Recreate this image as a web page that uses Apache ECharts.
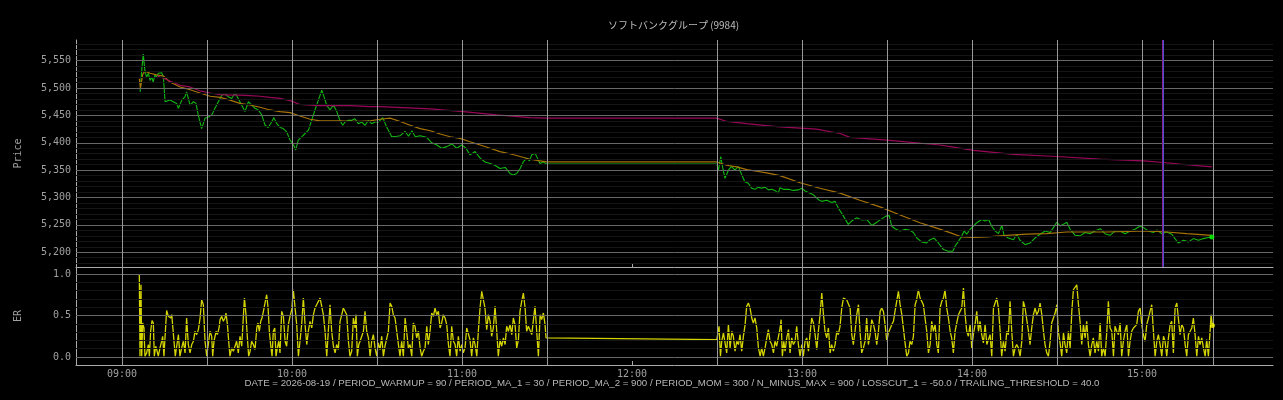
<!DOCTYPE html>
<html>
<head>
<meta charset="utf-8">
<script src="https://cdn.jsdelivr.net/npm/echarts@6/dist/echarts.min.js"></script>
<style>
  html, body { margin: 0; padding: 0; background: #000; }
  #main { width: 1283px; height: 400px; }
</style>
</head>
<body>
<div id="main"></div>
<script>
// x values are minutes after 09:00
var titleText = 'ソフトバンクグループ (9984)'
var footerText = 'DATE = 2026-08-19 / PERIOD_WARMUP = 90 / PERIOD_MA_1 = 30 / PERIOD_MA_2 = 900 / PERIOD_MOM = 300 / N_MINUS_MAX = 900 / LOSSCUT_1 = -50.0 / TRAILING_THRESHOLD = 40.0'

var priceTicks = [5200, 5250, 5300, 5350, 5400, 5450, 5500, 5550]
var erTicks = [0, 0.5, 1.0]
var hourTicks = [0, 60, 120, 180, 240, 300, 360]
var sessionLines = [0, 30, 60, 90, 120, 150, 210, 240, 270, 300, 330, 360, 385]
var signalTime = 367.4

var pricePoints = [
  [6.4,5493],[7.0,5535],[7.5,5562],[8.1,5530],[8.7,5520],[9.3,5527],[9.9,5514],[10.5,5520],[11.0,5511],[11.6,5524],
  [12.2,5520],[12.8,5527],[13.4,5524],[14.0,5528],[14.6,5520],[15.2,5475],[15.8,5475],[16.9,5478],[18.1,5475],[19.3,5472],
  [19.9,5463],[21.1,5478],[22.2,5484],[22.8,5493],[23.4,5481],[24.0,5469],[25.2,5475],[26.1,5472],[26.9,5451],[28.1,5426],
  [28.7,5429],[29.3,5445],[30.5,5447],[31.7,5451],[32.8,5463],[34.0,5475],[35.2,5487],[36.4,5490],[37.5,5484],[38.7,5481],
  [39.9,5491],[41.0,5481],[42.2,5469],[43.4,5457],[44.6,5475],[45.8,5469],[46.9,5463],[48.1,5460],[49.3,5451],[50.5,5432],
  [51.6,5428],[52.8,5438],[53.6,5446],[54.6,5435],[55.8,5428],[56.9,5426],[58.1,5420],[59.3,5405],[60.5,5396],[61.3,5387],
  [62.2,5405],[63.4,5411],[64.6,5417],[65.8,5423],[66.9,5441],[68.1,5460],[69.3,5478],[70.5,5496],[71.3,5484],[72.2,5469],
  [73.4,5460],[74.6,5469],[75.8,5457],[76.9,5441],[77.9,5432],[78.7,5438],[79.9,5441],[81.1,5441],[82.2,5444],[83.4,5435],
  [84.6,5438],[85.8,5432],[86.9,5441],[88.1,5435],[89.3,5438],[90.5,5438],[92.0,5446],[93.4,5429],[95.2,5411],[97.0,5412],
  [98.2,5413],[99.9,5421],[101.1,5412],[102.3,5422],[103.5,5411],[105.2,5413],[107.5,5410],[109.3,5400],[111.1,5396],[112.8,5390],
  [114.6,5393],[116.4,5398],[118.1,5390],[119.9,5396],[121.4,5390],[122.8,5378],[124.6,5384],[126.4,5372],[128.1,5365],[129.9,5362],
  [131.6,5359],[133.4,5353],[135.2,5355],[136.9,5344],[138.1,5341],[139.3,5344],[140.5,5353],[141.6,5365],[142.8,5372],[143.8,5367],
  [144.6,5378],[145.8,5381],[146.6,5372],[147.5,5362],[148.7,5365],[149.9,5361],[209.9,5361],[210.5,5350],[211.3,5375],[211.9,5357],
  [212.8,5335],[214.0,5350],[215.1,5357],[216.3,5350],[217.5,5357],[218.6,5343],[219.8,5329],[221.0,5326],[222.2,5317],[223.4,5315],
  [224.5,5319],[225.7,5317],[226.9,5319],[228.1,5314],[229.3,5315],[230.4,5313],[231.6,5308],[232.2,5318],[233.4,5315],[235.2,5315],
  [236.9,5313],[238.7,5314],[239.9,5317],[241.1,5312],[242.8,5308],[244.0,5305],[245.8,5296],[246.9,5293],[248.7,5295],[250.5,5291],
  [251.6,5293],[252.8,5281],[254.6,5266],[256.3,5251],[257.5,5257],[259.3,5263],[261.1,5259],[262.8,5260],[264.6,5249],[266.4,5255],
  [268.1,5261],[269.6,5266],[270.8,5267],[271.6,5248],[272.8,5243],[274.6,5239],[276.4,5242],[278.1,5240],[279.3,5236],[280.5,5226],
  [282.2,5219],[284.0,5217],[285.2,5223],[286.6,5226],[288.1,5217],[289.9,5205],[291.6,5202],[293.2,5202],[294.0,5211],[295.2,5220],
  [296.4,5230],[297.2,5239],[298.1,5233],[299.3,5242],[300.5,5248],[301.9,5255],[303.4,5260],[304.6,5257],[305.8,5260],[306.9,5248],
  [308.1,5239],[309.3,5234],[310.5,5249],[311.3,5231],[312.8,5226],[314.6,5223],[315.8,5233],[316.9,5222],[318.7,5214],[320.5,5217],
  [322.2,5226],[324.0,5233],[325.8,5239],[327.5,5236],[328.7,5245],[329.9,5255],[331.1,5248],[332.2,5251],[333.4,5255],[334.6,5242],
  [336.4,5231],[338.1,5230],[339.9,5236],[341.6,5234],[343.4,5239],[345.2,5243],[346.9,5234],[348.7,5231],[350.5,5239],[352.2,5239],
  [354.0,5234],[355.8,5239],[357.5,5242],[359.3,5248],[360.5,5245],[362.2,5239],[364.0,5236],[365.2,5241],[366.9,5234],[368.7,5237],
  [370.5,5233],[371.6,5225],[372.8,5217],[374.6,5222],[376.4,5219],[378.1,5225],[379.9,5222],[381.6,5225],[383.4,5227],[384.6,5228]
]

var ma1Points = [
  [6.1,5517],[6.5,5500],[7.3,5525],[8.1,5531],[9.9,5527],[12.2,5524],[14.6,5522],[16.9,5511],[20.5,5502],[24.0,5497],
  [27.5,5491],[31.1,5485],[34.6,5483],[38.1,5478],[41.6,5472],[45.2,5469],[48.7,5465],[52.2,5460],[55.8,5457],[59.3,5455],
  [62.8,5449],[66.4,5443],[69.9,5440],[73.4,5440],[76.9,5440],[80.5,5439],[84.0,5439],[87.5,5440],[91.1,5443],[94.6,5445],
  [98.2,5439],[101.7,5432],[105.2,5426],[108.8,5422],[112.3,5416],[115.8,5411],[119.3,5408],[122.8,5402],[126.4,5396],[129.9,5390],
  [133.4,5384],[136.9,5380],[140.5,5375],[144.0,5370],[147.5,5367],[149.9,5365],[209.9,5365],[213.4,5359],[216.9,5356],[220.5,5351],
  [224.0,5348],[227.5,5345],[232.2,5340],[239.3,5327],[246.3,5317],[253.4,5308],[260.4,5295],[267.5,5283],[274.6,5268],[281.6,5254],
  [287.5,5244],[292.2,5236],[296.4,5228],[300.5,5227],[305.2,5228],[312.2,5231],[319.3,5233],[326.3,5234],[333.4,5237],[340.5,5237],
  [347.5,5237],[354.6,5238],[361.7,5239],[368.7,5237],[375.8,5234],[384.6,5231]
]

var ma2Points = [
  [12.5,5522],[14.6,5518],[16.9,5513],[20.5,5505],[24.0,5502],[27.5,5495],[31.1,5491],[34.6,5488],[38.1,5487],[41.6,5487],
  [45.2,5486],[48.7,5485],[52.2,5483],[55.8,5481],[59.3,5477],[62.8,5470],[66.4,5469],[69.9,5468],[73.4,5468],[76.9,5468],
  [80.5,5468],[84.0,5467],[87.5,5466],[91.1,5466],[108.8,5462],[120.5,5457],[132.2,5451],[144.0,5446],[149.9,5445],[209.9,5445],
  [213.4,5439],[220.5,5435],[226.4,5432],[232.2,5429],[245.1,5425],[253.4,5417],[256.9,5410],[269.9,5405],[288.7,5396],[293.4,5392],
  [300.5,5386],[314.6,5379],[329.9,5375],[345.2,5370],[360.5,5367],[367.5,5364],[373.4,5361],[384.6,5356]
]

var erPoints = [
  [6.1,0.99],[6.35,0.01],[6.7,0.87],[6.95,0.01],[7.3,0.41],[7.75,0.35],[8.1,0.01],[8.7,0.05],[9.3,0.15],[9.65,0.01],
  [10.1,0.31],[10.6,0.44],[11.05,0.41],[11.4,0.01],[11.9,0.13],[12.25,0.09],[12.8,0.01],[13.4,0.11],[14.0,0.19],[14.35,0.25],
  [14.8,0.01],[15.3,0.31],[15.75,0.56],[16.35,0.49],[16.7,0.51],[17.2,0.47],[17.55,0.51],[17.9,0.37],[18.35,0.19],[18.8,0.01],
  [19.3,0.13],[19.9,0.27],[20.45,0.01],[21.05,0.11],[21.65,0.19],[22.25,0.05],[22.8,0.47],[23.4,0.15],[24.0,0.05],[24.6,0.15],
  [25.2,0.19],[25.75,0.31],[26.35,0.27],[26.95,0.33],[27.55,0.47],[28.1,0.69],[28.7,0.63],[29.3,0.19],[29.9,0.01],[30.45,0.15],
  [31.05,0.31],[31.65,0.25],[32.0,0.01],[32.45,0.19],[33.2,0.31],[33.65,0.27],[34.25,0.35],[34.6,0.45],[35.2,0.49],[35.75,0.43],
  [36.35,0.47],[36.7,0.53],[37.2,0.39],[37.65,0.19],[38.1,0.01],[38.7,0.11],[39.3,0.07],[39.9,0.09],[40.45,0.19],[41.05,0.05],
  [41.65,0.25],[42.25,0.13],[42.8,0.47],[43.2,0.71],[43.75,0.51],[44.25,0.23],[44.7,0.01],[45.2,0.07],[45.75,0.19],[46.35,0.15],
  [46.95,0.09],[47.55,0.35],[48.0,0.41],[48.45,0.31],[48.95,0.43],[49.4,0.47],[49.9,0.55],[50.45,0.57],[51.05,0.75],[51.55,0.59],
  [52.0,0.31],[52.45,0.15],[52.95,0.01],[53.4,0.31],[53.9,0.35],[54.35,0.01],[54.8,0.11],[55.3,0.19],[55.75,0.05],[56.35,0.55],
  [56.95,0.49],[57.55,0.19],[58.1,0.13],[58.7,0.39],[59.3,0.49],[59.9,0.57],[60.45,0.81],[61.05,0.83],[61.65,0.39],[62.25,0.01],
  [62.8,0.19],[63.4,0.39],[64.0,0.71],[64.6,0.39],[65.2,0.15],[65.75,0.31],[66.35,0.43],[66.95,0.35],[67.55,0.51],[68.1,0.59],
  [68.7,0.63],[69.3,0.67],[69.9,0.71],[70.45,0.73],[71.05,0.51],[71.65,0.31],[72.25,0.01],[72.8,0.31],[73.4,0.63],[74.0,0.31],
  [74.6,0.13],[75.2,0.05],[75.75,0.15],[76.35,0.09],[76.95,0.43],[77.55,0.51],[78.1,0.59],[78.7,0.61],[79.3,0.51],[79.9,0.19],
  [80.45,0.01],[81.05,0.07],[81.65,0.47],[82.25,0.35],[82.6,0.51],[83.05,0.01],[83.55,0.15],[84.0,0.19],[84.6,0.17],[85.2,0.31],
  [85.75,0.55],[86.35,0.31],[86.95,0.23],[87.55,0.01],[88.1,0.19],[88.7,0.27],[89.3,0.11],[89.9,0.01],[90.45,0.17],[91.05,0.09],
  [91.65,0.25],[92.25,0.01],[92.8,0.13],[93.4,0.15],[94.0,0.31],[94.6,0.65],[95.2,0.61],[95.75,0.51],[96.35,0.47],[96.95,0.31],
  [97.55,0.15],[98.1,0.01],[98.7,0.19],[99.3,0.01],[99.9,0.47],[100.45,0.31],[101.05,0.11],[101.65,0.15],[102.25,0.01],[102.8,0.41],
  [103.4,0.37],[104.0,0.23],[104.6,0.31],[105.2,0.11],[105.75,0.01],[106.35,0.07],[106.95,0.11],[107.55,0.37],[108.1,0.15],[108.7,0.31],
  [109.3,0.53],[109.9,0.49],[110.45,0.59],[111.05,0.51],[111.65,0.55],[112.25,0.35],[112.8,0.41],[113.4,0.51],[114.0,0.47],[114.6,0.39],
  [115.2,0.15],[115.75,0.01],[116.35,0.37],[116.95,0.19],[117.55,0.15],[118.1,0.01],[118.7,0.25],[119.3,0.07],[119.9,0.15],[120.45,0.05],
  [121.05,0.11],[121.65,0.35],[122.25,0.37],[122.8,0.21],[123.4,0.01],[124.0,0.23],[124.6,0.15],[125.2,0.01],[125.75,0.31],[126.35,0.59],
  [126.95,0.79],[127.55,0.8],[128.1,0.59],[128.7,0.33],[129.3,0.51],[129.9,0.43],[130.45,0.25],[131.05,0.35],[131.65,0.61],[132.25,0.31],
  [132.8,0.01],[133.4,0.21],[134.0,0.13],[134.6,0.23],[135.2,0.15],[135.75,0.37],[136.35,0.31],[136.95,0.39],[137.55,0.27],[138.1,0.47],
  [138.7,0.39],[139.3,0.11],[139.9,0.21],[140.45,0.55],[141.05,0.67],[141.65,0.77],[142.25,0.59],[142.8,0.31],[143.4,0.37],[144.0,0.35],
  [144.6,0.27],[145.2,0.45],[145.75,0.61],[146.35,0.31],[146.95,0.01],[147.55,0.51],[148.1,0.45],[148.7,0.53],[149.3,0.39],[149.65,0.23],
  [150.1,0.22],[209.9,0.21],[210.25,0.19],[210.7,0.37],[211.2,0.01],[211.65,0.19],[212.25,0.29],[212.8,0.27],[213.4,0.05],[214.0,0.39],
  [214.6,0.11],[215.2,0.31],[215.75,0.25],[216.35,0.07],[216.95,0.19],[217.55,0.15],[218.1,0.27],[218.7,0.07],[219.3,0.25],[219.9,0.39],
  [220.45,0.61],[221.05,0.65],[221.65,0.59],[222.25,0.47],[222.8,0.41],[223.4,0.47],[224.0,0.35],[224.6,0.11],[225.2,0.01],[225.75,0.11],
  [226.35,0.01],[226.95,0.11],[227.55,0.23],[228.1,0.33],[228.7,0.19],[229.3,0.15],[229.9,0.05],[230.45,0.19],[231.05,0.13],[231.65,0.11],
  [232.25,0.35],[232.6,0.45],[233.05,0.01],[233.55,0.19],[234.0,0.07],[234.6,0.23],[235.2,0.33],[235.75,0.05],[236.35,0.23],[236.95,0.15],
  [237.55,0.19],[238.1,0.37],[238.7,0.15],[239.3,0.01],[239.9,0.15],[240.45,0.01],[241.05,0.19],[241.65,0.23],[242.25,0.07],[242.8,0.27],
  [243.4,0.47],[244.0,0.41],[244.6,0.27],[245.2,0.09],[245.75,0.31],[246.35,0.51],[246.95,0.77],[247.55,0.51],[248.1,0.31],[248.7,0.23],
  [249.3,0.35],[249.9,0.05],[250.45,0.15],[251.05,0.07],[251.65,0.15],[252.25,0.31],[252.8,0.27],[253.4,0.37],[254.0,0.59],[254.6,0.71],
  [255.2,0.71],[255.75,0.69],[256.35,0.71],[256.95,0.59],[257.55,0.27],[258.1,0.15],[258.7,0.31],[259.3,0.51],[259.9,0.63],[260.45,0.31],
  [261.05,0.05],[261.65,0.11],[262.25,0.19],[262.8,0.47],[263.4,0.15],[264.0,0.27],[264.6,0.45],[265.2,0.39],[265.75,0.31],[266.35,0.15],
  [266.95,0.31],[267.55,0.55],[268.1,0.59],[268.7,0.55],[269.3,0.39],[269.9,0.19],[270.45,0.29],[271.05,0.27],[271.65,0.39],[272.25,0.43],
  [272.8,0.55],[273.4,0.67],[274.0,0.79],[274.6,0.63],[275.2,0.51],[275.75,0.35],[276.35,0.17],[276.95,0.01],[277.55,0.05],[278.1,0.19],
  [278.7,0.15],[279.3,0.25],[279.9,0.63],[280.45,0.69],[281.05,0.81],[281.65,0.71],[282.25,0.67],[282.8,0.63],[283.4,0.47],[284.0,0.31],
  [284.6,0.05],[285.2,0.15],[285.75,0.43],[286.35,0.31],[286.95,0.39],[287.55,0.15],[288.1,0.05],[288.7,0.59],[289.3,0.67],[289.9,0.71],
  [290.45,0.81],[291.05,0.59],[291.65,0.47],[292.25,0.31],[292.8,0.23],[293.4,0.05],[294.0,0.31],[294.6,0.41],[295.2,0.51],[295.75,0.55],
  [296.35,0.59],[296.95,0.83],[297.55,0.51],[298.1,0.31],[298.7,0.25],[299.3,0.39],[299.9,0.11],[300.45,0.27],[301.05,0.39],[301.65,0.55],
  [302.25,0.31],[302.8,0.43],[303.4,0.27],[304.0,0.17],[304.6,0.39],[305.2,0.15],[305.75,0.13],[306.35,0.27],[306.95,0.01],[307.55,0.59],
  [308.1,0.61],[308.7,0.71],[309.3,0.59],[309.9,0.31],[310.45,0.01],[311.05,0.19],[311.65,0.07],[312.25,0.31],[312.8,0.27],[313.4,0.67],
  [314.0,0.31],[314.6,0.01],[315.2,0.11],[315.75,0.15],[316.35,0.11],[316.95,0.01],[317.55,0.19],[318.1,0.67],[318.7,0.59],[319.3,0.61],
  [319.9,0.31],[320.45,0.15],[321.05,0.35],[321.65,0.51],[322.25,0.59],[322.8,0.51],[323.4,0.55],[324.0,0.65],[324.6,0.51],[325.2,0.31],
  [325.75,0.15],[326.35,0.05],[326.95,0.01],[327.55,0.19],[328.1,0.41],[328.7,0.43],[329.3,0.53],[329.9,0.63],[330.45,0.31],[331.05,0.17],
  [331.65,0.01],[332.25,0.29],[332.8,0.15],[333.4,0.05],[334.0,0.31],[334.6,0.11],[335.2,0.55],[335.75,0.81],[336.35,0.83],[336.95,0.87],
  [337.55,0.63],[338.1,0.43],[338.7,0.15],[339.3,0.39],[339.9,0.23],[340.45,0.43],[341.05,0.15],[341.65,0.01],[342.25,0.15],[342.8,0.23],
  [343.4,0.05],[344.0,0.19],[344.6,0.07],[345.2,0.41],[345.75,0.01],[346.35,0.11],[346.95,0.01],[347.55,0.31],[348.1,0.67],[348.7,0.35],
  [349.3,0.31],[349.9,0.01],[350.45,0.37],[351.05,0.31],[351.65,0.27],[352.25,0.41],[352.8,0.01],[353.4,0.19],[354.0,0.31],[354.6,0.39],
  [355.2,0.01],[355.75,0.19],[356.35,0.31],[356.95,0.35],[357.55,0.37],[358.1,0.39],[358.7,0.55],[359.3,0.59],[359.9,0.39],[360.45,0.27],
  [361.05,0.19],[361.65,0.39],[362.25,0.47],[362.8,0.55],[363.4,0.63],[364.0,0.31],[364.6,0.01],[365.2,0.19],[365.75,0.27],[366.35,0.15],
  [366.95,0.01],[367.55,0.25],[368.1,0.19],[368.7,0.01],[369.3,0.23],[369.9,0.39],[370.45,0.43],[371.05,0.05],[371.65,0.59],[372.25,0.65],
  [372.8,0.63],[373.4,0.27],[374.0,0.39],[374.6,0.35],[375.2,0.15],[375.75,0.01],[376.35,0.27],[376.95,0.31],[377.55,0.35],[378.1,0.47],
  [378.7,0.27],[379.3,0.01],[379.9,0.25],[380.45,0.15],[381.05,0.23],[381.65,0.11],[382.25,0.01],[382.8,0.21],[383.4,0.01],[384.0,0.31],
  [384.35,0.51],[384.8,0.38]
]

var xMin = -16.24, xMax = 406.2
var priceMin = 5173.1, priceMax = 5587.8
var erMin = -0.096, erMax = 1.084

var labelColor = '#a0a0a0'
var monoFont = 'DejaVu Sans Mono'

function pad(n) {
  return (n < 10 ? '0' : '') + n
}
function hhmm(v) {
  var m = Math.round(v) + 9 * 60
  return pad(Math.floor(m / 60)) + ':' + pad(m % 60)
}

// grid lines are drawn as mark lines so they sit exactly on the tick values
function gridLines(majors, minorStart, minorStep, minorCount) {
  var lines = []
  for (var i = 0; i < minorCount; i++) {
    var v = +(minorStart + i * minorStep).toFixed(4)
    var isMajor = majors.some(function (m) { return Math.abs(m - v) < 1e-6 })
    if (!isMajor) lines.push({ yAxis: v, lineStyle: { color: '#151515' } })
  }
  majors.forEach(function (m) {
    lines.push({ yAxis: m, lineStyle: { color: '#686868' } })
  })
  sessionLines.forEach(function (t) {
    lines.push({ xAxis: t, lineStyle: { color: '#9a9a9a' } })
  })
  return lines
}

function lineMarks(data) {
  return {
    silent: true,
    symbol: 'none',
    animation: false,
    label: { show: false },
    emphasis: { disabled: true },
    lineStyle: { type: 'solid', width: 1 },
    data: data
  }
}

function xAxisCommon(gridIndex, showLabels) {
  return {
    type: 'value',
    gridIndex: gridIndex,
    min: xMin,
    max: xMax,
    splitLine: { show: false },
    axisLine: { show: true, onZero: false, lineStyle: { color: '#aaaaaa' } },
    axisTick: { show: true, inside: true, length: 4, customValues: hourTicks, lineStyle: { color: '#aaaaaa' } },
    axisLabel: {
      show: showLabels,
      customValues: hourTicks,
      formatter: hhmm,
      color: labelColor,
      fontFamily: monoFont,
      fontSize: 10,
      margin: 4
    }
  }
}

var chart = echarts.init(document.getElementById('main'), null, { width: 1283, height: 400 })

var option = {
  backgroundColor: '#000000',
  animation: false,
  grid: [
    { left: 76, right: 10, top: 40, height: 227, outerBoundsMode: 'none' },
    { left: 76, right: 10, top: 267, height: 98, outerBoundsMode: 'none' }
  ],
  xAxis: [xAxisCommon(0, false), xAxisCommon(1, true)],
  yAxis: [
    {
      type: 'value',
      gridIndex: 0,
      min: priceMin,
      max: priceMax,
      name: 'Price',
      nameLocation: 'middle',
      nameRotate: 90,
      nameGap: 53,
      nameTextStyle: { color: labelColor, fontFamily: monoFont, fontSize: 10 },
      splitLine: { show: false },
      axisLine: { show: true, onZero: false, lineStyle: { color: '#aaaaaa' } },
      axisTick: { show: false },
      axisLabel: {
        customValues: priceTicks,
        formatter: function (v) { return v.toLocaleString('en-US') },
        color: labelColor,
        fontFamily: monoFont,
        fontSize: 10,
        margin: 5
      }
    },
    {
      type: 'value',
      gridIndex: 1,
      min: erMin,
      max: erMax,
      name: 'ER',
      nameLocation: 'middle',
      nameRotate: 90,
      nameGap: 53,
      nameTextStyle: { color: labelColor, fontFamily: monoFont, fontSize: 10 },
      splitLine: { show: false },
      axisLine: { show: true, onZero: false, lineStyle: { color: '#aaaaaa' } },
      axisTick: { show: false },
      axisLabel: {
        customValues: erTicks,
        formatter: function (v) { return v.toFixed(1) },
        color: labelColor,
        fontFamily: monoFont,
        fontSize: 10,
        margin: 5
      }
    }
  ],
  graphic: [
    {
      type: 'text', x: 673.5, y: 25,
      style: { text: titleText, fill: '#bdbdbd', font: '10px "Noto Sans CJK JP"', textAlign: 'center', textVerticalAlign: 'middle', align: 'center', verticalAlign: 'middle' }
    },
    {
      type: 'text', x: 672, y: 383,
      style: { text: footerText, fill: '#b8b8b8', font: '9.7px "Liberation Sans"', textAlign: 'center', textVerticalAlign: 'middle', align: 'center', verticalAlign: 'middle' }
    }
  ],
  series: [
    {
      name: 'gridPrice', type: 'line', xAxisIndex: 0, yAxisIndex: 0, z: 1,
      data: [], showSymbol: false,
      markLine: lineMarks(gridLines(priceTicks, 5180, 10, 41))
    },
    {
      name: 'gridEr', type: 'line', xAxisIndex: 1, yAxisIndex: 1, z: 1,
      data: [], showSymbol: false,
      markLine: lineMarks(gridLines(erTicks, 0, 0.1, 11))
    },
    {
      name: 'Price', type: 'line', xAxisIndex: 0, yAxisIndex: 0, z: 3,
      data: pricePoints, showSymbol: false, silent: true,
      lineStyle: { color: '#12b812', width: 1.1 }
    },
    {
      name: 'MA1', type: 'line', xAxisIndex: 0, yAxisIndex: 0, z: 4,
      data: ma1Points, showSymbol: false, silent: true,
      lineStyle: { color: '#a87408', width: 1.2 }
    },
    {
      name: 'MA2', type: 'line', xAxisIndex: 0, yAxisIndex: 0, z: 4,
      data: ma2Points, showSymbol: false, silent: true,
      lineStyle: { color: '#980858', width: 1.2 }
    },
    {
      name: 'signal', type: 'line', xAxisIndex: 0, yAxisIndex: 0, z: 6,
      data: [],
      markLine: {
        silent: true, symbol: 'none', animation: false,
        label: { show: false },
        data: [
          { xAxis: signalTime, lineStyle: { type: 'solid', color: '#8c2498', width: 2 } },
          { xAxis: signalTime, lineStyle: { type: 'solid', color: '#3d5cd8', width: 0.8 } }
        ]
      }
    },
    {
      name: 'lastPrice', type: 'scatter', xAxisIndex: 0, yAxisIndex: 0, z: 7,
      data: [pricePoints[pricePoints.length - 1]], symbolSize: 5, silent: true,
      itemStyle: { color: '#00ff00' }
    },
    {
      name: 'ER', type: 'line', xAxisIndex: 1, yAxisIndex: 1, z: 3,
      data: erPoints, showSymbol: false, silent: true,
      lineStyle: { color: '#d4d400', width: 1.3 }
    },
    {
      name: 'lastER', type: 'scatter', xAxisIndex: 1, yAxisIndex: 1, z: 7,
      data: [erPoints[erPoints.length - 1]], symbolSize: 5, silent: true,
      itemStyle: { color: '#ffff00' }
    }
  ]
}

chart.setOption(option)
</script>
</body>
</html>
